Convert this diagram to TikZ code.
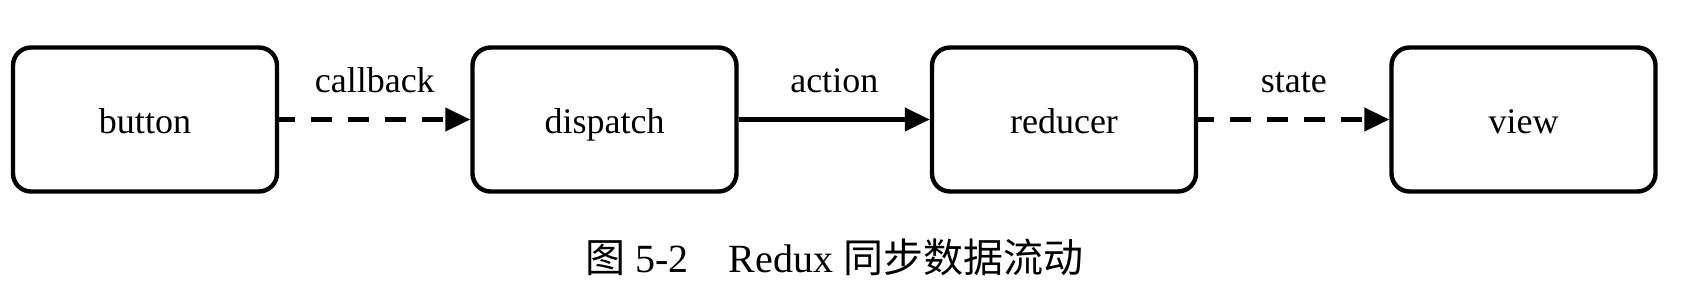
\documentclass[tikz,border=0pt]{standalone}
\usepackage{fontspec}
\setmainfont{Liberation Serif}
\newfontfamily\cjk{Noto Sans CJK SC}
\usetikzlibrary{arrows.meta}
\begin{document}
\begin{tikzpicture}[x=1pt,y=1pt,
  box/.style={draw=black, line width=4.4pt, rounded corners=18pt, minimum width=264pt, minimum height=144pt, inner sep=0pt, text height=33pt, text depth=6pt, font=\fontsize{36}{40}\selectfont},
  conn/.style={line width=4.2pt, -{Triangle[length=25pt,width=23pt]}},
  dashconn/.style={conn, dash pattern=on 21pt off 16pt, dash phase=5pt},
  lbl/.style={anchor=base, yshift=27.5pt, font=\fontsize{36}{40}\selectfont, inner sep=0pt}
]
\useasboundingbox (0,0) rectangle (1696,-298);
\node[box] (button) at (145,-119.5) {button};
\node[box] (dispatch) at (604.5,-119.5) {dispatch};
\node[box] (reducer) at (1064,-119.5) {reducer};
\node[box] (view) at (1523.5,-119.5) {view};
\draw[dashconn] (button.east) -- node[lbl] (l1) {callback} (dispatch.west);
\draw[conn] (dispatch.east) -- node[lbl] (l2) {action} (reducer.west);
\draw[dashconn] (reducer.east) -- node[lbl] (l3) {state} (view.west);
\node[anchor=base, inner sep=0pt, font=\fontsize{40}{44}\selectfont] (cap) at (834.5,-272) {{\cjk 图} 5-2\hspace{1em}Redux {\cjk 同步数据流动}};
\end{tikzpicture}
\end{document}
